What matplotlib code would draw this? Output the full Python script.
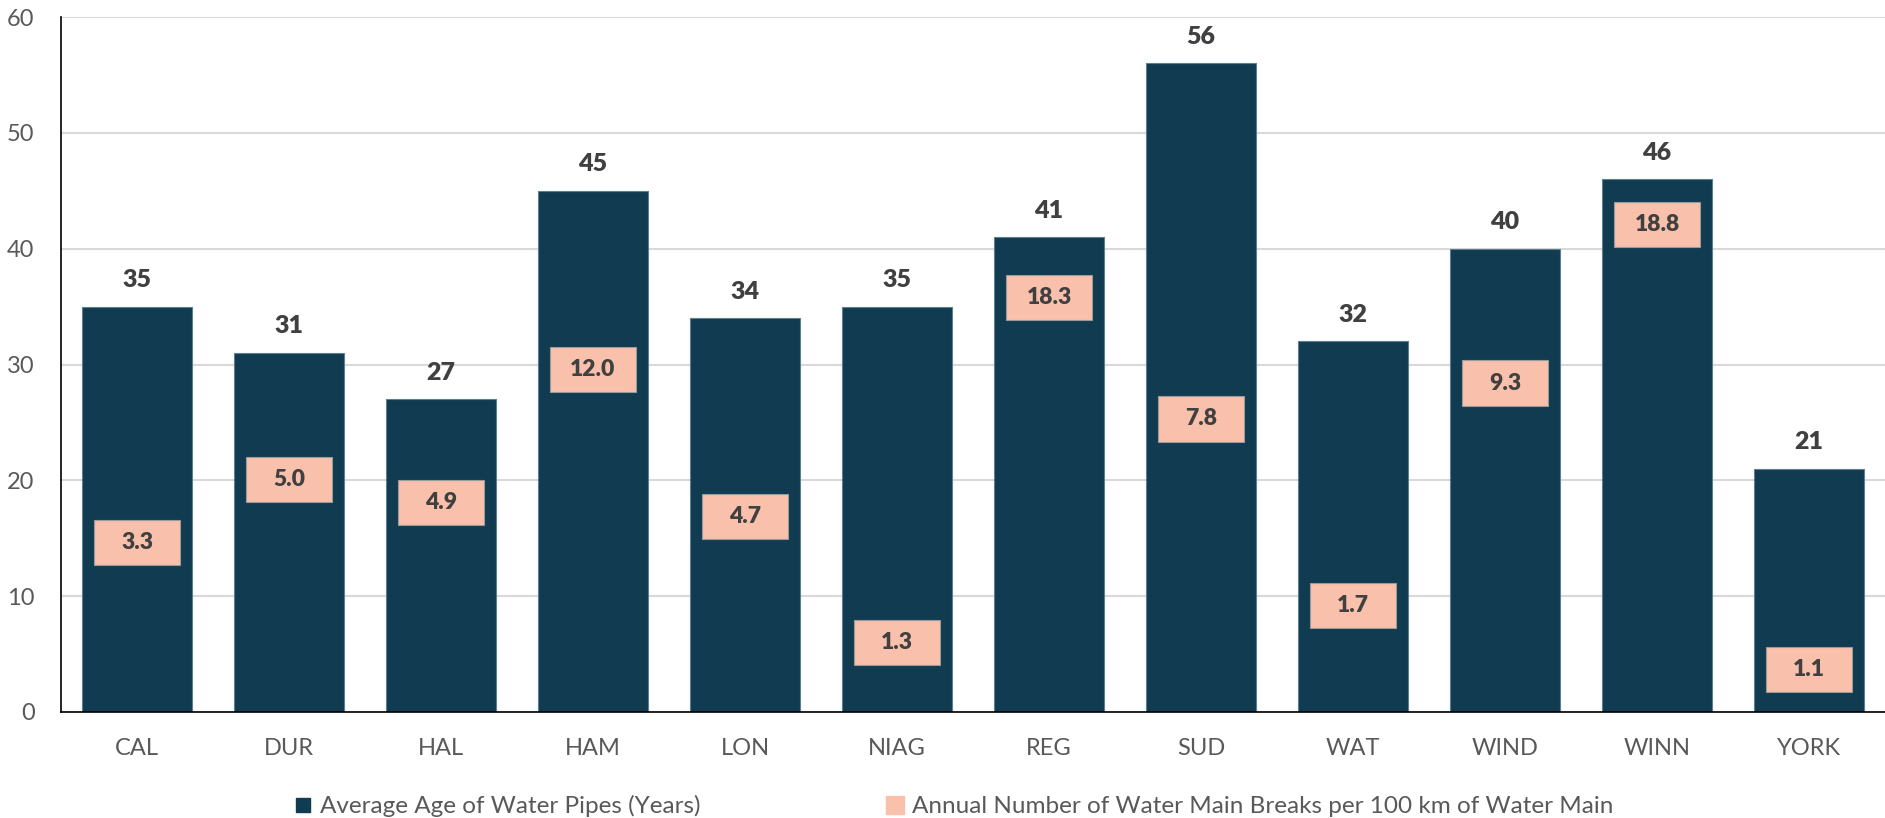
import matplotlib
matplotlib.use("Agg")
import matplotlib.pyplot as plt
from matplotlib.lines import Line2D

# dados
cidades = ["CAL", "DUR", "HAL", "HAM", "LON", "NIAG", "REG", "SUD", "WAT", "WIND", "WINN", "YORK"]
idade_media = [35, 31, 27, 45, 34, 35, 41, 56, 32, 40, 46, 21]
rupturas = [3.3, 5.0, 4.9, 12.0, 4.7, 1.3, 18.3, 7.8, 1.7, 9.3, 18.8, 1.1]
# altura (no eixo de idade) onde cada caixa de rupturas foi colocada no original
rupturas_pos = [14.6, 20.1, 18.1, 29.6, 16.9, 6.0, 35.8, 25.3, 9.2, 28.4, 42.1, 3.7]
yticks = [0, 10, 20, 30, 40, 50, 60]

serie1 = "Average Age of Water Pipes (Years)"
serie2 = "Annual Number of Water Main Breaks per 100 km of Water Main"

COR_BARRA = "#113B50"
COR_ROSA = "#F9C0AB"
COR_TEXTO = "#595959"
COR_ROTULO = "#404040"

plt.rcParams["font.family"] = ["Lato", "DejaVu Sans"]

fig = plt.figure(figsize=(18.85, 8.18), dpi=100)
ax = fig.add_axes([61 / 1885, 106 / 818, 1 - 61 / 1885, 695 / 818])

x = list(range(len(cidades)))
ax.bar(x, idade_media, width=0.72, color=COR_BARRA, edgecolor="#5E7F8F",
       linewidth=0.8, zorder=2)

for xi, v in zip(x, idade_media):
    ax.annotate(f"{v}", (xi, v), xytext=(0, 14), textcoords="offset points",
                ha="center", va="baseline", fontsize=18, fontweight="heavy",
                color=COR_ROTULO)

# caixas rosas com os valores de rupturas
alt_caixa = 3.9
ax.bar(x, [alt_caixa] * len(x), bottom=[p - alt_caixa / 2 for p in rupturas_pos],
       width=0.57, color=COR_ROSA, edgecolor="#9A9A9A", linewidth=0.8, zorder=3)
for xi, p, r in zip(x, rupturas_pos, rupturas):
    ax.text(xi, p, f"{r:.1f}", ha="center", va="center", fontsize=16.5,
            fontweight="heavy", color=COR_ROTULO, zorder=4)

ax.set_xlim(-0.5, len(cidades) - 0.5)
ax.set_ylim(0, 60)
ax.set_yticks(yticks)
ax.set_xticks(x)
ax.set_xticklabels(cidades)
ax.tick_params(axis="both", length=0, labelsize=17, labelcolor=COR_TEXTO)
ax.tick_params(axis="y", pad=19)
ax.tick_params(axis="x", pad=19)

ax.grid(axis="y", color="#D9D9D9", linewidth=1.5, zorder=0)
ax.set_axisbelow(True)
for lado in ["top", "right"]:
    ax.spines[lado].set_visible(False)
for lado in ["left", "bottom"]:
    ax.spines[lado].set_color("black")
    ax.spines[lado].set_linewidth(1.2)
    ax.spines[lado].set_zorder(5)

handles = [
    Line2D([], [], marker="s", linestyle="none", markersize=10,
           markerfacecolor=COR_BARRA, markeredgecolor=COR_BARRA),
    Line2D([], [], marker="s", linestyle="none", markersize=13,
           markerfacecolor=COR_ROSA, markeredgecolor=COR_ROSA),
]
fig.legend(handles, [serie1, serie2], loc="center", bbox_to_anchor=(0.505, 12 / 818),
           ncol=2, frameon=False, fontsize=17.5, labelcolor=COR_TEXTO,
           handletextpad=0.2, columnspacing=7.5, handlelength=1.0)

fig.savefig("out.png", dpi=100)
